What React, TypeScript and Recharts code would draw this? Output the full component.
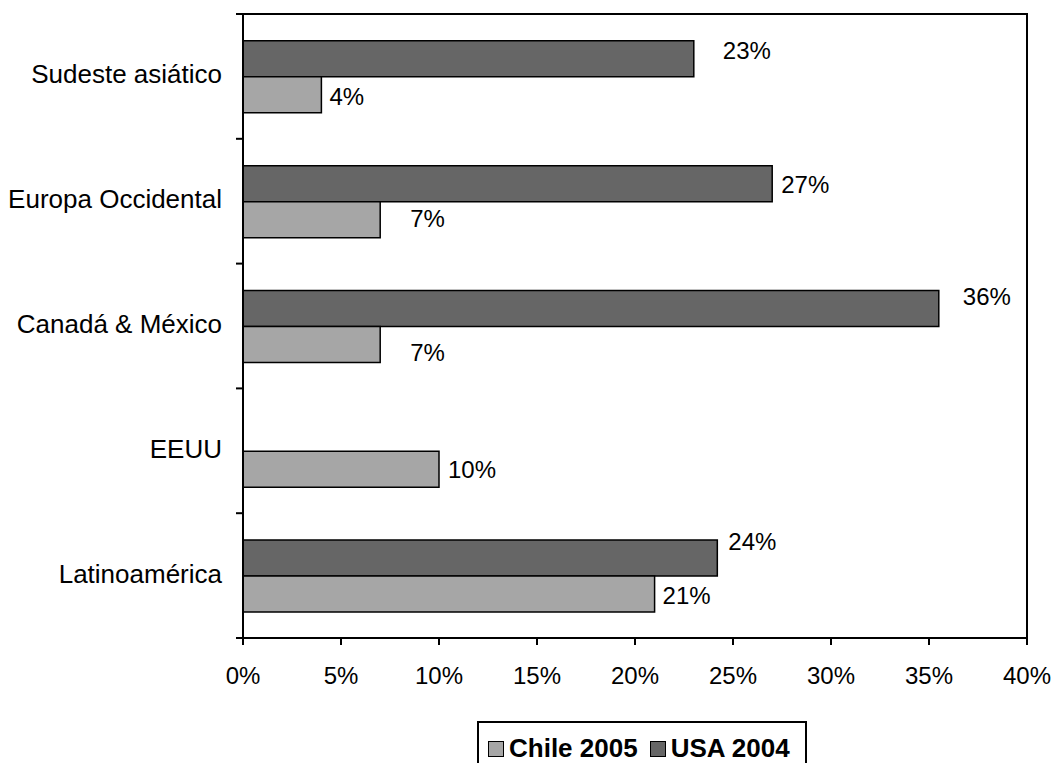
import React from 'react';
import {
  BarChart,
  Bar,
  XAxis,
  YAxis,
  LabelList,
  ReferenceArea
} from 'recharts';

const regions = ['Sudeste asiático', 'Europa Occidental', 'Canadá & México', 'EEUU', 'Latinoamérica'];
const usa2004 = [23, 27, 35.5, null, 24.2];
const chile2005 = [4, 7, 7, 10, 21];
const xTicks = [0, 5, 10, 15, 20, 25, 30, 35, 40];

const chartData = regions.map((region, i) => ({
  region,
  usa: usa2004[i],
  chile: chile2005[i]
}));

// hand placed label nudges (dx, dy) like the original Excel chart, one per region
const usaNudge = [[29, -8], [9, 1], [24, -12], [0, 0], [11, -17]];
const chileNudge = [[8, 2], [30, -1], [30, 8], [9, 0], [8, 1]];

const FONT = '"Liberation Sans", Arial, sans-serif';
const DARK = '#666666';
const LIGHT = '#a6a6a6';

const legendItems = [
  { name: 'Chile 2005', color: LIGHT },
  { name: 'USA 2004', color: DARK }
];

// label gets the region name, so the nudge and the value are looked up by region
const makeLabel = (values: (number | null)[], nudge: number[][]) => (props: any) => {
  const { x, y, width, height, value } = props;
  const i = regions.indexOf(value);
  if (i < 0 || values[i] == null) return null;
  const [dx, dy] = nudge[i];
  return (
    <text
      x={x + width + dx}
      y={y + height / 2 + dy}
      dominantBaseline="central"
      fontSize={24}
      fontFamily={FONT}
      fill="#000"
    >
      {Math.round(values[i] as number)}%
    </text>
  );
};

const RegionTick = (props: any) => {
  const { x, y, payload, index } = props;
  const half = payload.offset || 62.4;
  const axisX = x + 21;
  return (
    <g>
      <line x1={axisX - 7} x2={axisX} y1={y - half} y2={y - half} stroke="#000" strokeWidth={2} />
      {index === regions.length - 1 && (
        <line x1={axisX - 7} x2={axisX} y1={y + half} y2={y + half} stroke="#000" strokeWidth={2} />
      )}
      <text x={x} y={y - 2} textAnchor="end" dominantBaseline="central" fontSize={26} fontFamily={FONT} fill="#000">
        {payload.value}
      </text>
    </g>
  );
};

const LegendBox = () => (
  <div
    style={{
      position: 'absolute',
      left: 477,
      top: 721,
      width: 330,
      height: 50,
      display: 'flex',
      alignItems: 'flex-start',
      border: '2px solid #000',
      padding: '10px 0 0 9px',
      boxSizing: 'border-box',
      fontFamily: FONT,
      fontWeight: 'bold',
      fontSize: 26,
      lineHeight: '30px',
      whiteSpace: 'nowrap',
      background: '#fff'
    }}
  >
    {legendItems.map((item) => (
      <span key={item.name} style={{ display: 'flex', alignItems: 'center', marginRight: 12 }}>
        <span
          style={{
            display: 'inline-block',
            width: 14,
            height: 14,
            background: item.color,
            border: '1px solid #000',
            marginRight: 5,
            marginTop: 2
          }}
        />
        {item.name}
      </span>
    ))}
  </div>
);

export default function App() {
  return (
    <div style={{ position: 'absolute', left: 0, top: 0, width: 1054, height: 763, background: '#fff', overflow: 'hidden' }}>
      <BarChart
        width={1054}
        height={763}
        data={chartData}
        layout="vertical"
        margin={{ top: 14, right: 27, bottom: 0, left: 0 }}
        barCategoryGap="21.5%"
        barGap={0}
      >
        <ReferenceArea x1={0} x2={40} fill="none" stroke="#000" strokeWidth={2} ifOverflow="visible" />
        <XAxis
          type="number"
          domain={[0, 40]}
          ticks={xTicks}
          tickFormatter={(v: number) => `${v}%`}
          tickSize={7}
          tickMargin={22}
          height={125}
          axisLine={{ stroke: '#000', strokeWidth: 2 }}
          tickLine={{ stroke: '#000', strokeWidth: 2 }}
          tick={{ fill: '#000', fontSize: 24, fontFamily: FONT }}
        />
        <YAxis
          type="category"
          dataKey="region"
          width={243}
          tickSize={7}
          tickMargin={14}
          tickLine={false}
          axisLine={{ stroke: '#000', strokeWidth: 2 }}
          tick={<RegionTick />}
          interval={0}
        />
        <Bar dataKey="usa" name="USA 2004" fill={DARK} stroke="#000" strokeWidth={1.5} isAnimationActive={false}>
          <LabelList dataKey="region" content={makeLabel(usa2004, usaNudge)} />
        </Bar>
        <Bar dataKey="chile" name="Chile 2005" fill={LIGHT} stroke="#000" strokeWidth={1.5} isAnimationActive={false}>
          <LabelList dataKey="region" content={makeLabel(chile2005, chileNudge)} />
        </Bar>
      </BarChart>
      <LegendBox />
    </div>
  );
}
